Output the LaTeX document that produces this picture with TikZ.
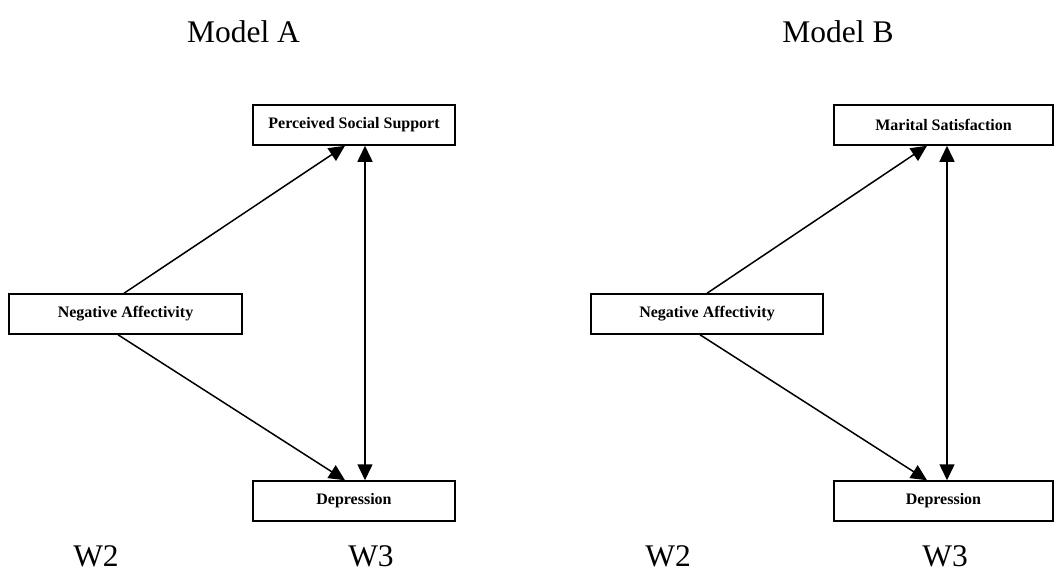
\documentclass[tikz,border=0pt]{standalone}
\usepackage{fontspec}
\setmainfont{Liberation Serif}
\usetikzlibrary{arrows.meta}
\begin{document}
\begin{tikzpicture}[x=1pt, y=-1pt, line width=1.5pt,
    var/.style={draw, rectangle, minimum height=40pt, inner sep=0pt,
                font=\fontsize{16}{18}\selectfont\bfseries},
    title/.style={font=\fontsize{31.5}{36}\selectfont},
    path/.style={-{Triangle[length=16pt,width=15pt]}},
    covar/.style={{Triangle[length=16pt,width=15pt]}-{Triangle[length=16pt,width=15pt]}}]
    \useasboundingbox (0,0) rectangle (1055,584);

    % Model A
    \node[title] (titleA) at (243.5, 32) {Model A};
    \node[var, minimum width=233pt] (naA) at (125.5, 314) {Negative Affectivity};
    \node[var, minimum width=202pt] (pssA) at (354, 125) {Perceived Social Support};
    \node[var, minimum width=202pt] (depA) at (354, 501) {Depression};

    \draw[path] ([xshift=-1.5pt]naA.north) -- ([xshift=-9pt]pssA.south);
    \draw[path] ([xshift=-7.5pt]naA.south) -- ([xshift=-9pt]depA.north);
    \draw[covar] ([xshift=11pt]pssA.south) -- ([xshift=11pt]depA.north);

    \node[title] (w2A) at (96, 556) {W2};
    \node[title] (w3A) at (371, 556) {W3};

    % Model B
    \node[title] (titleB) at (838, 32) {Model B};
    \node[var, minimum width=232pt] (naB) at (707, 314) {Negative Affectivity};
    \node[var, minimum width=219pt] (msB) at (943.5, 125) {Marital Satisfaction};
    \node[var, minimum width=219pt] (depB) at (943.5, 501) {Depression};

    \draw[path] (naB.north) -- ([xshift=-16.5pt]msB.south);
    \draw[path] ([xshift=-7pt]naB.south) -- ([xshift=-16.5pt]depB.north);
    \draw[covar] ([xshift=3.5pt]msB.south) -- ([xshift=3.5pt]depB.north);

    \node[title] (w2B) at (668, 556) {W2};
    \node[title] (w3B) at (945, 556) {W3};
\end{tikzpicture}
\end{document}
